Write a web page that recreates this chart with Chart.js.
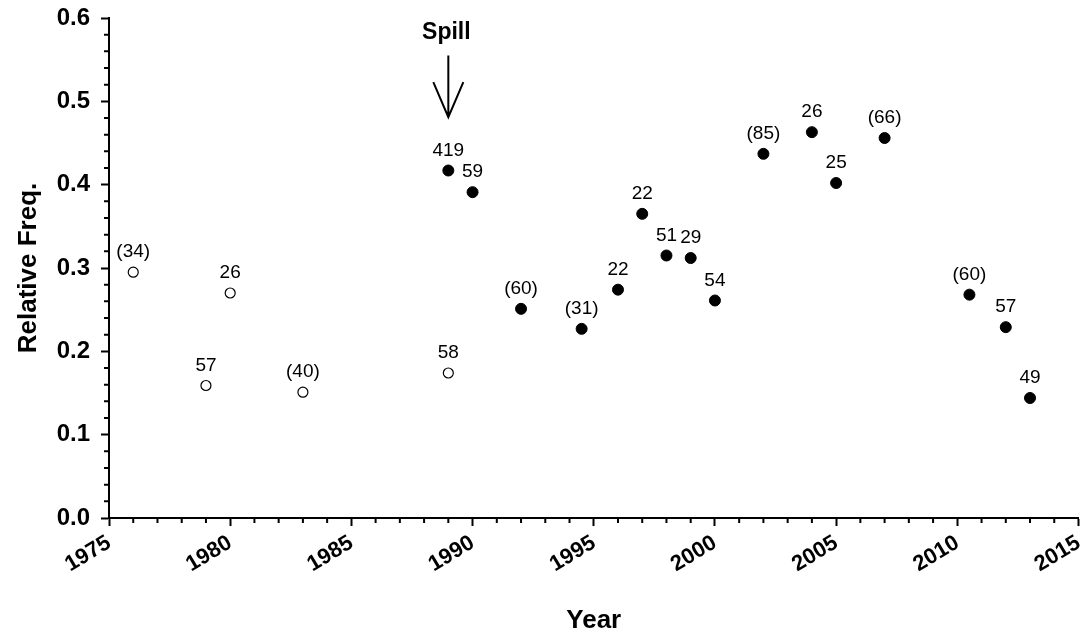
<!doctype html>
<html>
<head>
  <title>Relative frequency by year</title>
  <script src="https://cdn.jsdelivr.net/npm/chart.js@4.4.0/dist/chart.umd.min.js"></script>
  <style>
    body { margin: 0; background: #fff; }
    .chart { width: 1085px; height: 635px; }
  </style>
</head>
<body>
  <div class="chart"><canvas id="myChart"></canvas></div>
  <script>
    // open circles: before the spill
    var openYears = [1976, 1979, 1980, 1983, 1989];
    var openFreq = [0.295, 0.159, 0.270, 0.151, 0.174];
    var openLabels = ['(34)', '57', '26', '(40)', '58'];

    // filled circles: after the spill
    var filledYears = [1989, 1990, 1992, 1994.5, 1996, 1997, 1998, 1999, 2000, 2002, 2004, 2005, 2007, 2010.5, 2012, 2013];
    var filledFreq = [0.417, 0.391, 0.251, 0.227, 0.274, 0.365, 0.315, 0.312, 0.261, 0.437, 0.463, 0.402, 0.456, 0.268, 0.229, 0.144];
    var filledLabels = ['419', '59', '(60)', '(31)', '22', '22', '51', '29', '54', '(85)', '26', '25', '(66)', '(60)', '57', '49'];

    var spillYear = 1989;
    var spillText = 'Spill';

    var FONT = 'Arial, "Liberation Sans", sans-serif';

    function toPoints(xs, ys) {
      return xs.map(function(x, i) { return { x: x, y: ys[i] }; });
    }

    var pointLabels = {
      id: 'pointLabels',
      afterDatasetsDraw: function(chart) {
        var ctx = chart.ctx;
        ctx.save();
        ctx.fillStyle = '#000';
        ctx.font = '19px ' + FONT;
        ctx.textAlign = 'center';
        ctx.textBaseline = 'middle';
        chart.data.datasets.forEach(function(ds, di) {
          var meta = chart.getDatasetMeta(di);
          meta.data.forEach(function(pt, i) {
            ctx.fillText(ds.labels[i], pt.x, pt.y - 20);
          });
        });
        ctx.restore();
      }
    };

    var minorTicks = {
      id: 'minorTicks',
      afterDraw: function(chart) {
        var ctx = chart.ctx;
        var xs = chart.scales.x, ys = chart.scales.y;
        var area = chart.chartArea;
        ctx.save();
        ctx.strokeStyle = '#000';
        ctx.lineWidth = 2;
        ctx.beginPath();
        for (var i = 0; i <= 30; i++) {
          if (i % 5 === 0) continue;
          var py = ys.getPixelForValue(i * 0.02);
          ctx.moveTo(area.left - 5, py);
          ctx.lineTo(area.left, py);
        }
        for (var yr = 1975; yr <= 2015; yr++) {
          if (yr % 5 === 0) continue;
          var px = xs.getPixelForValue(yr);
          ctx.moveTo(px, area.bottom);
          ctx.lineTo(px, area.bottom + 5);
        }
        ctx.stroke();
        ctx.restore();
      }
    };

    var spillArrow = {
      id: 'spillArrow',
      afterDraw: function(chart) {
        var ctx = chart.ctx;
        var x = chart.scales.x.getPixelForValue(spillYear);
        var y0 = chart.scales.y.getPixelForValue(0.555);
        var y1 = chart.scales.y.getPixelForValue(0.481);
        ctx.save();
        ctx.strokeStyle = '#000';
        ctx.lineWidth = 2;
        ctx.beginPath();
        ctx.moveTo(x, y0);
        ctx.lineTo(x, y1);
        ctx.moveTo(x - 15, y1 - 35);
        ctx.lineTo(x, y1);
        ctx.lineTo(x + 15, y1 - 35);
        ctx.stroke();
        ctx.fillStyle = '#000';
        ctx.font = 'bold 23px ' + FONT;
        ctx.textAlign = 'center';
        ctx.textBaseline = 'middle';
        ctx.fillText(spillText, x - 2, chart.scales.y.getPixelForValue(0.582));
        ctx.restore();
      }
    };

    var config = {
      type: 'scatter',
      data: {
        datasets: [{
          label: 'Before',
          labels: openLabels,
          data: toPoints(openYears, openFreq),
          pointStyle: 'circle',
          pointRadius: 5,
          borderWidth: 1.2,
          borderColor: '#000',
          backgroundColor: '#fff'
        }, {
          label: 'After',
          labels: filledLabels,
          data: toPoints(filledYears, filledFreq),
          pointStyle: 'circle',
          pointRadius: 5.5,
          borderWidth: 1,
          borderColor: '#000',
          backgroundColor: '#000'
        }]
      },
      options: {
        responsive: true,
        maintainAspectRatio: false,
        animation: false,
        layout: { padding: { top: 18, right: 5, left: 0, bottom: 0 } },
        plugins: {
          legend: { display: false },
          tooltip: { enabled: false }
        },
        scales: {
          x: {
            type: 'linear',
            min: 1975,
            max: 2015,
            afterFit: function(s) {
              s.height = 117;
              s.paddingLeft = 0;
              s.paddingRight = 0;
            },
            border: { color: '#000', width: 2 },
            grid: { drawOnChartArea: false, color: '#000', tickColor: '#000', tickLength: 8, tickWidth: 2 },
            ticks: {
              stepSize: 5,
              color: '#000',
              padding: 4,
              minRotation: 31,
              maxRotation: 31,
              font: { family: FONT, size: 22, weight: 'bold' },
              callback: function(v) { return String(v); }
            },
            title: {
              display: true,
              text: 'Year',
              color: '#000',
              padding: { top: 0, bottom: -1 },
              font: { family: FONT, size: 26, weight: 'bold' }
            }
          },
          y: {
            min: 0,
            max: 0.6,
            afterFit: function(s) {
              s.width = 109;
              s.paddingTop = 0;
              s.paddingBottom = 0;
            },
            border: { color: '#000', width: 2 },
            grid: { drawOnChartArea: false, color: '#000', tickColor: '#000', tickLength: 8, tickWidth: 2 },
            ticks: {
              stepSize: 0.1,
              color: '#000',
              padding: 11,
              font: { family: FONT, size: 24, weight: 'bold' },
              callback: function(v) { return v.toFixed(1); }
            },
            title: {
              display: true,
              text: 'Relative Freq.',
              color: '#000',
              padding: { top: 13, bottom: 0 },
              font: { family: FONT, size: 26, weight: 'bold' }
            }
          }
        }
      },
      plugins: [pointLabels, minorTicks, spillArrow]
    };

    window.onload = function() {
      var ctx = document.getElementById('myChart').getContext('2d');
      window.myChart = new Chart(ctx, config);
    };
  </script>
</body>
</html>
